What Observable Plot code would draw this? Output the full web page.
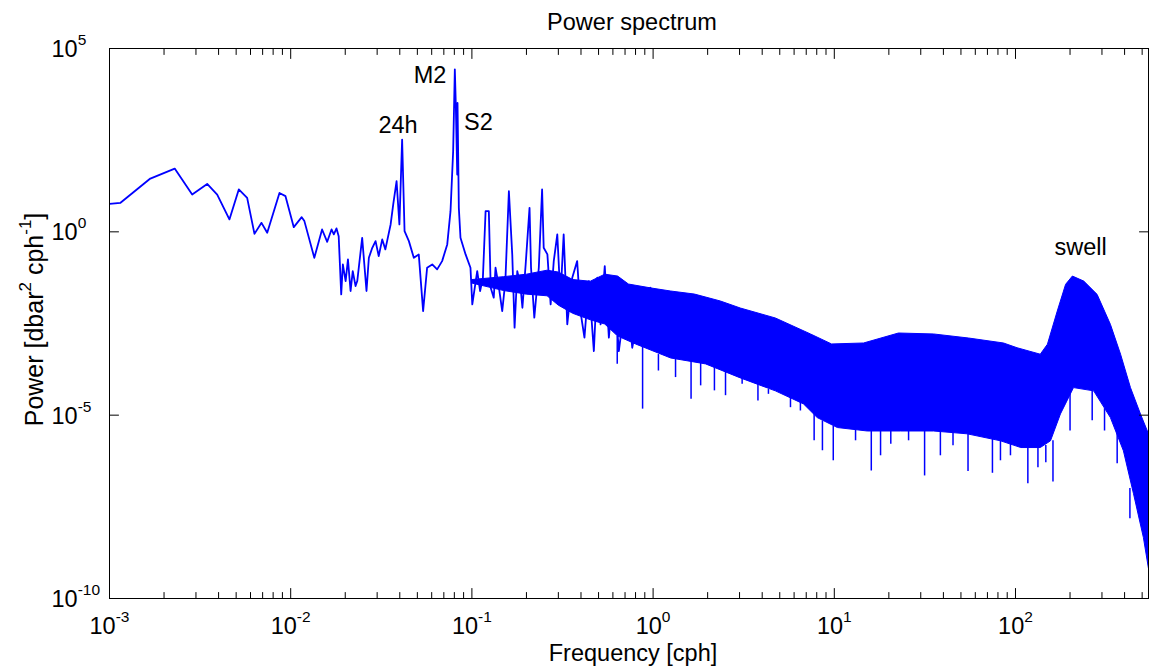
<!DOCTYPE html>
<html><head><meta charset="utf-8">
<script src="https://cdn.jsdelivr.net/npm/d3@7"></script>
<script src="https://cdn.jsdelivr.net/npm/@observablehq/plot@0.6"></script>
<style>body{margin:0;background:#fff} svg{display:block}</style>
</head><body><div id="chart"></div>
<script>
// Low-frequency part of the spectrum (cph, dbar^2/cph)
const lowF = [1.0e-3,1.15e-3,1.68e-3,2.29e-3,2.86e-3,3.46e-3,3.93e-3,4.59e-3,5.17e-3,5.75e-3,
  6.31e-3,6.90e-3,7.42e-3,8.67e-3,9.36e-3,1.04e-2,1.15e-2,1.19e-2,1.35e-2,1.49e-2,
  1.59e-2,1.68e-2,1.73e-2,1.79e-2,1.84e-2,1.90e-2,1.94e-2,2.01e-2,2.07e-2,2.14e-2,
  2.20e-2,2.28e-2,2.33e-2,2.48e-2,2.62e-2,2.70e-2,2.82e-2,2.94e-2,3.06e-2,3.20e-2,
  3.33e-2,3.56e-2,3.68e-2,3.84e-2,3.98e-2,4.12e-2,4.25e-2,4.49e-2,4.78e-2,5.09e-2,
  5.38e-2,5.66e-2,6.04e-2,6.43e-2,6.85e-2,7.31e-2,7.62e-2,7.88e-2,8.05e-2,8.15e-2,
  8.30e-2,8.33e-2,8.47e-2,8.65e-2,9.23e-2,9.82e-2,0.1005,0.107,0.111,0.115,
  0.119,0.124,0.127,0.132,0.135,0.141,0.147,0.153,0.160,0.167,
  0.172,0.178,0.185,0.190,0.198,0.208,0.212,0.221,0.234,0.244,
  0.249,0.261,0.272,0.283,0.296,0.308,0.321,0.336,0.358,0.381,
  0.397,0.418,0.442,0.471,0.492,0.513,0.541,0.570,0.607,0.647,
  0.719,0.767,0.871,0.968,1.05,1.15];
const lowP = [5.8,6.2,28.4,53,10.4,20.3,10.4,2.18,14.3,8.43,
  0.88,1.76,0.94,11.5,9.4,1.34,2.51,1.96,0.196,1.16,
  0.534,1.16,0.85,1.24,0.76,0.0197,0.129,0.0454,0.177,0.0243,
  0.085,0.0332,0.0454,0.687,0.0243,0.196,0.367,0.558,0.218,0.621,
  0.332,1.59,5.57,24.0,1.59,328,1.04,0.558,0.196,0.242,
  0.0069,0.105,0.129,0.0946,0.159,0.454,3.66,158,2.7e4,2950,
  36.6,3260,4.5,0.687,0.242,0.105,0.0105,0.085,0.0243,0.056,
  3.66,3.66,0.0299,0.016,0.105,0.0299,0.0069,0.0454,12.8,0.242,
  0.00243,0.085,0.037,0.0085,0.129,4.5,0.105,0.00455,0.105,14.3,
  0.367,0.242,0.0105,0.159,0.85,0.016,0.85,0.003,0.056,0.159,
  0.0069,0.0013,0.0454,5.6e-4,0.056,0.003,0.116,0.0013,0.0454,5.6e-4,
  0.0332,6.9e-4,0.0197,0.0299,5.6e-4,0.016];

// Dense band: upper and lower envelopes
const upperF = [0.1,0.15,0.2,0.26,0.3,0.36,0.45,0.541,0.637,0.731,
  0.98,1.25,1.69,2.35,3.03,4.73,7.39,9.66,14.5,22.6,
  35.3,55.1,85.9,102,137,150,170,189,206,238,
  282,334,380,431,490,542];
const upperP = [0.05,0.06,0.07,0.09,0.08,0.05,0.045,0.07,0.0622,0.0377,
  0.0293,0.0243,0.0201,0.013,0.00836,0.00447,0.00164,8.75e-4,9.3e-4,0.00174,
  0.00164,0.00127,9.3e-4,6.9e-4,4.6e-4,8.6e-4,0.0069,0.037,0.0622,0.0454,
  0.0197,0.003,4.6e-4,5.65e-5,1.06e-5,3.1e-6];
const lowerF = [0.1,0.15,0.2,0.26,0.3,0.36,0.45,0.541,0.637,0.80,
  1.25,1.95,3.03,4.73,6.76,8.05,10.4,15.2,23.2,35.3,
  54.1,82.6,107,137,156,177,209,270,334,394,
  448,508,542];
const lowerP = [0.04,0.025,0.02,0.018,0.01,0.006,0.004,0.00306,0.00144,8.75e-4,
  3.63e-4,2.5e-4,1.04e-4,4.6e-5,2.03e-5,8.6e-6,4.6e-6,3.7e-6,3.7e-6,3.7e-6,
  3.1e-6,2.0e-6,1.31e-6,1.31e-6,2.0e-6,1.08e-5,5.65e-5,4.6e-5,8.6e-6,1.07e-6,
  7.2e-8,4.6e-9,6.5e-10];

// Downward spikes below the band
const spikeF = [0.634,0.875,1.07,1.33,1.62,1.83,2.18,2.51,3.10,3.79,
  4.33,5.73,6.5,7.74,8.6,9.87,13.1,16.0,18.0,20.5,
  25.7,31.5,38.5,45.2,54.7,74.6,82.6,93.8,117,133,
  147,161,200,265,310,364,428];
const spikeTip = [2.45e-4,1.46e-5,1.6e-4,1.06e-4,2.7e-5,6.3e-5,4.6e-5,3.4e-5,7.0e-5,2.45e-5,
  3.7e-5,1.6e-5,1.3e-5,2.0e-6,1.07e-6,5.7e-7,2.0e-6,3.0e-7,7.8e-7,1.6e-6,
  2.0e-6,2.2e-7,7.8e-7,1.46e-6,2.9e-7,2.6e-7,5.7e-7,7.8e-7,1.35e-7,3.7e-7,
  5.0e-7,1.5e-7,3.7e-6,7.0e-6,3.7e-6,4.7e-7,1.5e-8];
const spikeBase = [1.4e-3,1.0e-3,4.5e-4,3.6e-4,3.0e-4,2.8e-4,2.5e-4,1.6e-4,1.04e-4,7e-5,
  5e-5,3.5e-5,2.5e-5,1.2e-5,7e-6,5e-6,4e-6,3.7e-6,3.7e-6,3.7e-6,
  3.7e-6,3.7e-6,3.7e-6,3.5e-6,3.1e-6,2.2e-6,2e-6,1.8e-6,1.3e-6,1.3e-6,
  1.5e-6,2e-6,5e-5,4.6e-5,1.5e-5,4e-6,1e-7];

// Annotations
const annLabels = ["M2","24h","S2","swell"];
const annF = [0.0587,0.0391,0.1087,228.6];
const annP = [1.8e4,805,971,0.371];

// Axes
const xMin = 1e-3, xMax = 542, yMin = 1e-10, yMax = 1e5;
const xMajor = [1e-3,1e-2,1e-1,1e0,1e1,1e2];
const xExp = ["-3","-2","-1","0","1","2"];
const yMajor = [1e-10,1e-5,1e0,1e5];
const yExp = ["-10","-5","0","5"];
const titleText = "Power spectrum";
const xLabel = "Frequency [cph]";
const yLabel = "Power [dbar^2 cph^-1]";

const blue = "#0000ff";
const low = lowF.map((f,i)=>({f, p: lowP[i]}));
const band = [...upperF.map((f,i)=>({f, p: upperP[i]})),
              ...lowerF.map((f,i)=>({f, p: lowerP[i]})).reverse()];
const spikes = spikeF.map((f,i)=>({f, base: spikeBase[i], tip: spikeTip[i]}));
const ann = annLabels.map((t,i)=>({t, f: annF[i], p: annP[i]}));
const xMinor = [];
for (const d of xMajor) for (let m = 2; m <= 9; m++) { const v = d*m; if (v <= xMax) xMinor.push(v); }

const W = 1149, H = 670, mT = 48, mL = 109, mR = 1, mB = 72;
const fs = 23.5;
const stick = {draw(context, l) { context.moveTo(0, 0); context.lineTo(0, -l); }};
const tick = (data, opts) => Plot.vector(data, {anchor: "start", shape: stick, stroke: "black", strokeWidth: 1, ...opts});

const chart = Plot.plot({
  width: W, height: H, marginTop: mT, marginLeft: mL, marginRight: mR, marginBottom: mB,
  style: {fontFamily: "'Liberation Sans', Arial, sans-serif", background: "white", color: "black", overflow: "visible"},
  x: {type: "log", domain: [xMin, xMax], axis: null},
  y: {type: "log", domain: [yMin, yMax], axis: null},
  marks: [
    Plot.line(band, {x: "f", y: "p", fill: blue, stroke: blue, strokeWidth: 1, clip: true}),
    Plot.ruleX(spikes, {x: "f", y1: "base", y2: "tip", stroke: blue, strokeWidth: 1.5, clip: true}),
    Plot.line(low, {x: "f", y: "p", stroke: blue, strokeWidth: 1.8, clip: true}),
    Plot.frame({stroke: "black", strokeWidth: 1}),
    tick(xMajor, {x: d => d, y: yMin, rotate: 0, length: 10}),
    tick(xMinor, {x: d => d, y: yMin, rotate: 0, length: 6}),
    tick(xMajor, {x: d => d, y: yMax, rotate: 180, length: 10}),
    tick(xMinor, {x: d => d, y: yMax, rotate: 180, length: 6}),
    tick(yMajor, {x: xMin, y: d => d, rotate: 90, length: 9}),
    tick(yMajor, {x: xMax, y: d => d, rotate: -90, length: 9}),
    Plot.text(xMajor, {x: d => d, text: (d,i) => "10^" + xExp[i], frameAnchor: "bottom", dy: 28, lineAnchor: "middle", textAnchor: "middle", fontSize: fs, fill: "black", className: "xtl"}),
    Plot.text(yMajor, {y: d => d, text: (d,i) => "10^" + yExp[i], frameAnchor: "left", dx: -58, dy: 1, textAnchor: "start", lineAnchor: "middle", fontSize: fs, fill: "black", className: "ytl"}),
    Plot.text(ann, {x: "f", y: "p", text: "t", fontSize: fs, fill: "black", lineAnchor: "middle", textAnchor: "middle"}),
    Plot.text([titleText], {frameAnchor: "top", dy: -26, dx: 3, fontSize: fs, fill: "black", lineAnchor: "middle", textAnchor: "middle"}),
    Plot.text([xLabel], {frameAnchor: "bottom", dy: 55, dx: 4, fontSize: fs, fill: "black", lineAnchor: "middle", textAnchor: "middle"}),
    Plot.text([yLabel], {frameAnchor: "left", dx: -75, dy: -4, rotate: -90, fontSize: 25, fill: "black", lineAnchor: "middle", textAnchor: "middle", className: "ylab"})
  ]
});
document.getElementById("chart").appendChild(chart);

// Render "^" superscripts as tspans
function applySup(el, supSize, supShift) {
  const s = el.textContent;
  const parts = s.split(/(\^-?\d+)/).filter(p => p.length);
  while (el.firstChild) el.removeChild(el.firstChild);
  let raised = false;
  for (const p of parts) {
    const t = document.createElementNS("http://www.w3.org/2000/svg", "tspan");
    if (p.startsWith("^")) {
      t.textContent = p.slice(1);
      t.setAttribute("font-size", supSize);
      t.setAttribute("dy", -supShift);
      raised = true;
    } else {
      t.textContent = p;
      if (raised) { t.setAttribute("dy", supShift); raised = false; }
    }
    el.appendChild(t);
  }
}
chart.querySelectorAll(".xtl text, .ytl text").forEach(el => applySup(el, 15.5, 12));
chart.querySelectorAll(".ylab text").forEach(el => applySup(el, 17, 12));
</script>
</body></html>
